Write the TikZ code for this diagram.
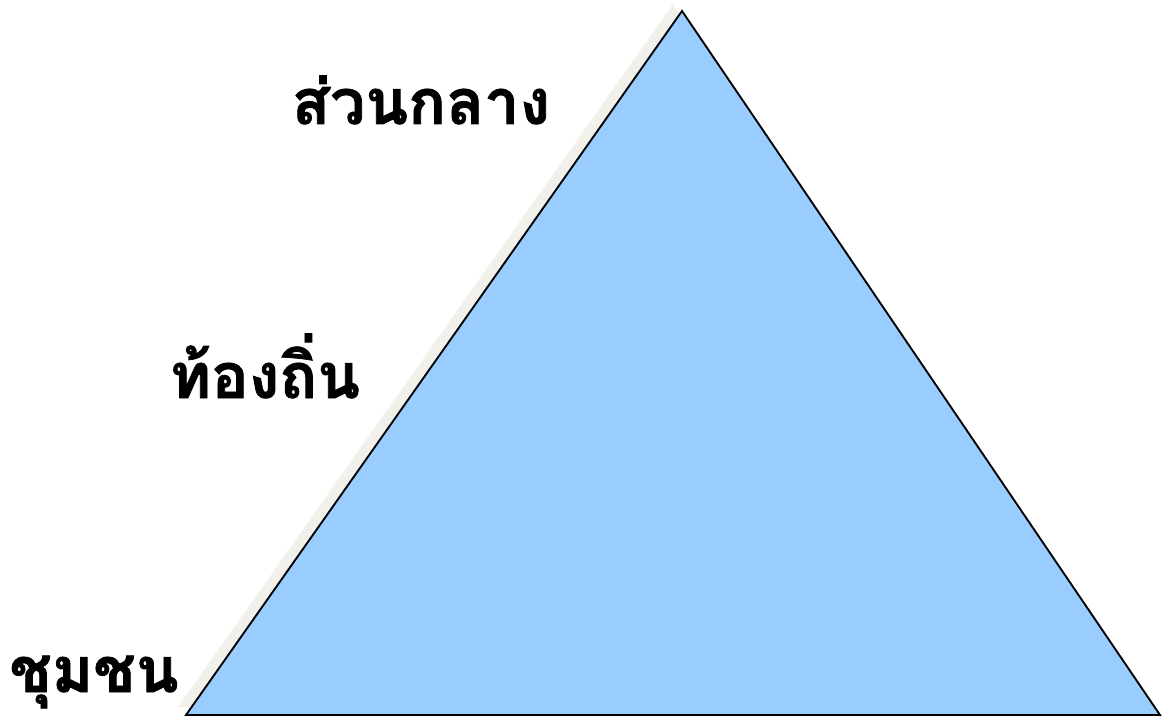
\documentclass[tikz,border=0pt]{standalone}
\usepackage{fontspec}
\newfontfamily\thaifont[Script=Thai, BoldFeatures={FakeBold=1.2}]{Loma}
\usepackage{tikz}
\usepackage{xcolor}
\usetikzlibrary{calc}
\definecolor{cTri}    {HTML}{99CCFF}
\definecolor{cShadow} {HTML}{F2F0EA}
\definecolor{cText}   {HTML}{000000}

\begin{document}
\begin{tikzpicture}[
  x=0.75pt, y=-0.75pt,
  %
  tri/.style={draw=black, fill=cTri, line width=1.4pt, line join=miter},
  trishadow/.style={draw=none, fill=cShadow},
  level/.style={
    font=\thaifont\bfseries\fontsize{47}{52}\selectfont,
    text=cText, inner sep=0pt, anchor=base,
  },
]
\useasboundingbox (0,0) rectangle (1162,720);

% ────────────── CORNERS ────────────────────────────────────────────────────
\coordinate (apex)  at (682,11);
\coordinate (left)  at (186,715);
\coordinate (right) at (1160,715);

% ────────────── SHADOW + TRIANGLE ──────────────────────────────────────────
\fill[trishadow] ($(apex)+(-9,-7)$) -- ($(left)+(-8,-8)$) -- ($(right)+(-8,-8)$) -- cycle;
\draw[tri] (apex) -- (left) -- (right) -- cycle;

% ────────────── LEVEL LABELS ───────────────────────────────────────────────
\node[level] (central) at (421,124) {ส่วนกลาง};
\node[level] (local)   at (265,398) {ท้องถิ่น};
\node[level] (commun)  at (94,692)  {ชุมชน};

\end{tikzpicture}
\end{document}
